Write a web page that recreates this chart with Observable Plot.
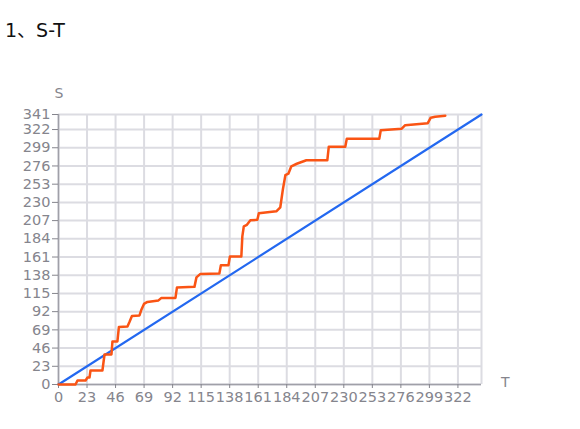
<!DOCTYPE html>
<html>
<head>
<meta charset="utf-8">
<script src="https://cdn.jsdelivr.net/npm/d3@7"></script>
<script src="https://cdn.jsdelivr.net/npm/@observablehq/plot@0.6"></script>
<style>
  body { margin: 0; background: #fff; width: 580px; height: 429px; overflow: hidden; }
  #title { position: relative; height: 50px; }
  #title span { position: absolute; left: 5px; top: 15px; font-family: "DejaVu Sans", "Noto Sans CJK SC", sans-serif; font-size: 19px; color: #111; }
  svg { display: block; }
</style>
</head>
<body>
<div id="title"><span>1、S-T</span></div>
<div id="chart"></div>
<script>
// Observed cumulative curve (vertices of the orange step line)
const actualT = [0, 13.7, 15.3, 21.8, 23.4, 25, 25.8, 35.4, 37.1, 42.7, 43.5, 47.5, 48.7, 55.6, 57.2, 59.2, 65.3, 66.9, 68.9, 71.7, 80.6, 83, 94.3, 95.5, 109.6, 111.2, 114.4, 129.7, 130.9, 137, 138.2, 147.4, 148.2, 149.4, 151.9, 154.7, 160.3, 161.5, 175.6, 178.8, 180.9, 182.9, 185.3, 187.7, 192.1, 199.8, 216.7, 217.9, 231.2, 232.4, 258.6, 259.8, 276.7, 279.5, 297.7, 300.1, 303.7, 311.8];
const actualS = [0, 0, 5.1, 5.1, 8.9, 8.9, 17.7, 17.7, 37.9, 37.9, 54.4, 54.4, 72.7, 73.3, 79, 86.6, 87.2, 94.8, 101.8, 104.3, 106.2, 109.4, 109.4, 122.6, 123.3, 135.3, 139.7, 140.3, 150.5, 150.5, 161.8, 161.8, 187.1, 199.8, 201.7, 207.4, 208, 216.2, 218.7, 223.8, 246.6, 264.3, 266.2, 275.6, 278.8, 283.2, 283.2, 300.3, 300.3, 310.4, 310.4, 321.2, 323.1, 327.5, 330, 337, 338.2, 339.5];
// Reference diagonal
const diagT = [0, 341];
const diagS = [0, 341];
// Axis ticks
const xTicks = [0, 23, 46, 69, 92, 115, 138, 161, 184, 207, 230, 253, 276, 299, 322];
const yTicks = [0, 23, 46, 69, 92, 115, 138, 161, 184, 207, 230, 253, 276, 299, 322, 341];
const axisMax = 341;
const xLabel = "T";
const yLabel = "S";

const actual = actualT.map((t, i) => ({T: t, S: actualS[i]}));
const diag = diagT.map((t, i) => ({T: t, S: diagS[i]}));

const grid = "#dcdce2";
const chart = Plot.plot({
  width: 580,
  height: 379,
  marginTop: 64,
  marginBottom: 45,
  marginLeft: 58,
  marginRight: 99,
  style: {fontFamily: "'DejaVu Sans', sans-serif", fontSize: "14.5px", background: "#fff"},
  x: {domain: [0, axisMax]},
  y: {domain: [0, axisMax]},
  marks: [
    Plot.ruleX([...xTicks, axisMax], {stroke: grid, strokeWidth: 2}),
    Plot.ruleY(yTicks, {stroke: grid, strokeWidth: 2}),
    Plot.ruleX([0], {stroke: "#a0a0a8", strokeWidth: 1.5}),
    Plot.ruleY([0], {stroke: "#a0a0a8", strokeWidth: 1.5}),
    Plot.axisX({ticks: xTicks, tickSize: 4, tickPadding: 3, label: null, color: "#85858d", tickFormat: d => String(d)}),
    Plot.axisY({ticks: yTicks, tickSize: 6, tickPadding: 2, label: null, color: "#85858d", tickFormat: d => String(d)}),
    Plot.line(diag, {x: "T", y: "S", stroke: "#2368f0", strokeWidth: 2.2}),
    Plot.line(actual, {x: "T", y: "S", stroke: "#fa5414", strokeWidth: 2.5, strokeLinejoin: "round"}),
    Plot.text([yLabel], {frameAnchor: "top-left", dy: -26, dx: -4, fill: "#85858d", fontSize: 14}),
    Plot.text([xLabel], {frameAnchor: "bottom-right", dx: 28, dy: 2, fill: "#85858d", fontSize: 14})
  ]
});
document.getElementById("chart").appendChild(chart);
</script>
</body>
</html>
